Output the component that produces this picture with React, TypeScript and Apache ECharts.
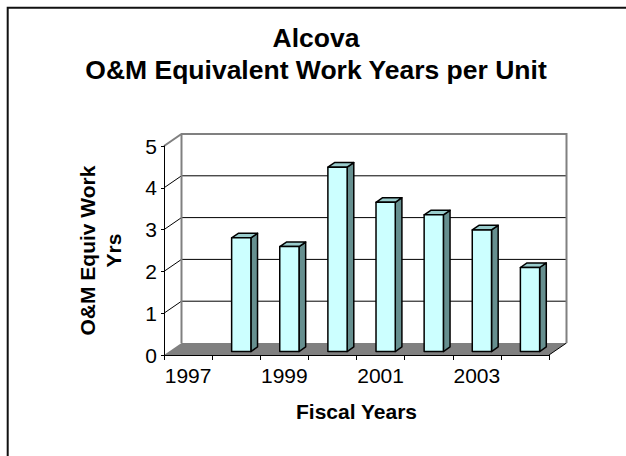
import React, { useEffect, useRef } from "react";
import * as echarts from "echarts";

const years = ["1997", "1998", "1999", "2000", "2001", "2002", "2003", "2004"];
const workYears: (number | null)[] = [null, 2.72, 2.51, 4.41, 3.57, 3.27, 2.91, 2.01];
const yTicks = [0, 1, 2, 3, 4, 5];
const titleLines = ["Alcova", "O&M Equivalent Work Years per Unit"];
const yName = ["O&M Equiv Work", "Yrs"];
const xName = "Fiscal Years";

const FONT = "'Liberation Sans', Arial, sans-serif";
const DX = 17.5;
const DY = -12;
const FRONT_FRAC = 0.29;
const BACK_FRAC = 0.67;
const BAR_W = 0.4;

export default function App() {
  const ref = useRef<HTMLDivElement>(null);
  useEffect(() => {
    if (!ref.current) return;
    const chart = echarts.init(ref.current, undefined, { renderer: "svg" });
    const yMin = yTicks[0];
    const yMax = yTicks[yTicks.length - 1];
    const barData = years
      .map((_, i) => [i, workYears[i]])
      .filter((d) => d[1] != null);

    const renderFrame = (params: any, api: any) => {
      const cs = params.coordSys;
      const x0 = cs.x;
      const x1 = cs.x + cs.width;
      const yAt = (v: number) => api.coord([0, v])[1];
      const y0 = yAt(yMin);
      const y5 = yAt(yMax);
      const children: any[] = [];
      children.push({
        type: "polygon",
        shape: { points: [[x0, y0], [x1, y0], [x1 + DX, y0 + DY], [x0 + DX, y0 + DY]] },
        style: { fill: "#808080", stroke: "none" },
      });
      children.push({
        type: "line",
        shape: { x1: x1, y1: y0, x2: x1 + DX, y2: y0 + DY },
        style: { stroke: "#000", lineWidth: 1 },
      });
      yTicks
        .filter((v) => v !== yMin && v !== yMax)
        .forEach((v) => {
          const y = yAt(v);
          children.push({
            type: "line",
            shape: { x1: x0 + DX, y1: y + DY, x2: x1 + DX, y2: y + DY },
            style: { stroke: "#000", lineWidth: 1 },
          });
          children.push({
            type: "line",
            shape: { x1: x0, y1: y, x2: x0 + DX, y2: y + DY },
            style: { stroke: "#000", lineWidth: 1 },
          });
        });
      children.push({
        type: "polyline",
        shape: {
          points: [
            [x0, y5],
            [x0 + DX, y5 + DY],
            [x1 + DX, y5 + DY],
            [x1 + DX, y0 + DY],
          ],
        },
        style: { stroke: "#808080", lineWidth: 2, fill: "none" },
      });
      children.push({
        type: "line",
        shape: { x1: x0 + DX, y1: y5 + DY, x2: x0 + DX, y2: y0 + DY },
        style: { stroke: "#808080", lineWidth: 2 },
      });
      return { type: "group", children };
    };

    const renderBar = (params: any, api: any) => {
      const i = api.value(0);
      const v = api.value(1);
      const bw = api.size([1, 0])[0];
      const base = api.coord([i, 0]);
      const top = api.coord([i, v]);
      const w = bw * BAR_W;
      const L = base[0] + FRONT_FRAC * DX - w / 2;
      const R = L + w;
      const yB = base[1] + FRONT_FRAC * DY;
      const yT = top[1] + FRONT_FRAC * DY;
      const dx = (BACK_FRAC - FRONT_FRAC) * DX;
      const dy = (BACK_FRAC - FRONT_FRAC) * DY;
      const st = { stroke: "#000", lineWidth: 1.5, lineJoin: "round" };
      return {
        type: "group",
        children: [
          {
            type: "polygon",
            shape: { points: [[R, yT], [R + dx, yT + dy], [R + dx, yB + dy], [R, yB]] },
            style: { ...st, fill: "#668F8F" },
          },
          {
            type: "polygon",
            shape: { points: [[L, yT], [L + dx, yT + dy], [R + dx, yT + dy], [R, yT]] },
            style: { ...st, fill: "#99CCCC" },
          },
          {
            type: "polygon",
            shape: { points: [[L, yT], [R, yT], [R, yB], [L, yB]] },
            style: { ...st, fill: "#CCFFFF" },
          },
        ],
      };
    };

    chart.setOption({
      animation: false,
      backgroundColor: "#fff",
      title: {
        text: titleLines.join("\n"),
        left: 311,
        textAlign: "center",
        top: 17,
        textStyle: {
          fontFamily: FONT,
          fontSize: 26.5,
          fontWeight: "bold",
          color: "#000",
          lineHeight: 32,
        },
      },
      graphic: [
        {
          type: "rect",
          shape: { x: 7.7, y: 7.7, width: 700, height: 520 },
          style: { fill: "none", stroke: "#111", lineWidth: 2 },
          silent: true,
          z: -1,
        },
      ],
      grid: { left: 164, top: 146, width: 385, height: 209 },
      xAxis: {
        type: "category",
        data: years,
        boundaryGap: true,
        z: 10,
        axisLine: { show: true, lineStyle: { color: "#000", width: 1 } },
        axisTick: { show: true, interval: 0, length: 5, lineStyle: { color: "#000" } },
        axisLabel: { interval: 1, fontSize: 21, color: "#000", margin: 10, fontFamily: FONT },
        splitLine: { show: false },
        name: xName,
        nameLocation: "middle",
        nameGap: 46,
        nameTextStyle: { fontSize: 21, fontWeight: "bold", color: "#000", fontFamily: FONT },
      },
      yAxis: {
        type: "value",
        min: yMin,
        max: yMax,
        interval: 1,
        z: 10,
        axisLine: { show: true, lineStyle: { color: "#000", width: 1 } },
        axisTick: { show: true, length: 3, lineStyle: { color: "#000" } },
        axisLabel: { fontSize: 21, color: "#000", margin: 7, fontFamily: FONT },
        splitLine: { show: false },
        name: yName.join("\n"),
        nameLocation: "middle",
        nameGap: 38,
        nameTextStyle: {
          fontSize: 21,
          fontWeight: "bold",
          color: "#000",
          fontFamily: FONT,
          lineHeight: 26,
          align: "center",
        },
      },
      series: [
        {
          type: "custom",
          name: "frame",
          renderItem: renderFrame,
          data: [[0, 0]],
          z: 1,
          silent: true,
        },
        {
          type: "custom",
          name: "O&M Equivalent Work Years",
          renderItem: renderBar,
          data: barData,
          encode: { x: 0, y: 1 },
          z: 3,
        },
      ],
    });
    return () => chart.dispose();
  }, []);
  return (
    <div
      ref={ref}
      style={{ position: "fixed", left: 0, top: 0, width: 626, height: 456 }}
    />
  );
}
